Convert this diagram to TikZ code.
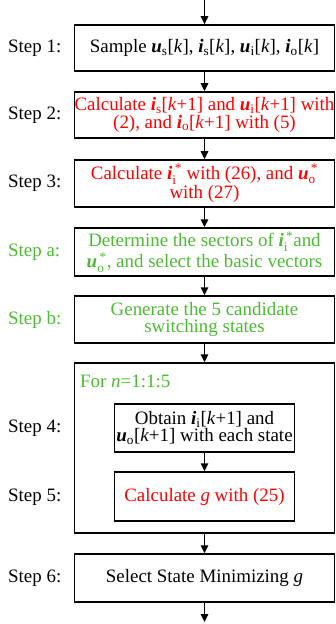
\documentclass[tikz,border=0pt]{standalone}
\usepackage{fontspec}
\usepackage{amsmath}
\setmainfont{Liberation Serif}
\usetikzlibrary{arrows.meta}
\definecolor{stepred}{RGB}{255,0,0}
\definecolor{stepgreen}{RGB}{76,187,51}
% bold italic vector with upright subscript
\newcommand{\bv}[2]{\textbf{\textit{#1}}\textsubscript{#2}}
% bold italic vector with stacked subscript and star
\newcommand{\bvs}[2]{\textbf{\textit{#1}}$_{\text{#2}}^{\,\text{*}}$}
\newcommand{\kk}{[\textit{k}]}
\newcommand{\kp}{[\textit{k}+1]}
\begin{document}
\begin{tikzpicture}[x=1bp,y=-1bp,
  every node/.style={font=\fontsize{19}{17.5}\selectfont},
  box/.style={draw,line width=1.5bp,inner sep=0pt,align=center,minimum width=259.5bp},
  inbox/.style={draw,line width=1.5bp,inner sep=0pt,align=center,minimum width=180bp},
  lbl/.style={anchor=west,inner sep=0pt},
  flow/.style={line width=1.5bp,-{Triangle[length=8bp,width=7.5bp]}}]
\useasboundingbox (0,0) rectangle (335,624);

% main column of process boxes
\node[box,minimum height=46bp] (b1) at (204.5,48)
  {Sample \bv{u}{s}\kk, \bv{i}{s}\kk, \bv{u}{i}\kk, \bv{i}{o}\kk};
\node[box,minimum height=46bp,text=stepred] (b2) at (204.5,115)
  {Calculate \bv{i}{s}\kp{} and \bv{u}{i}\kp{} with\\(2), and \bv{i}{o}\kp{} with (5)};
\node[box,minimum height=47bp,text=stepred] (b3) at (204.5,183.5)
  {Calculate \bvs{i}{i} with (26), and \bvs{u}{o}\\with (27)};
\node[box,minimum height=48bp,text=stepgreen] (ba) at (204.5,252)
  {Determine the sectors of \bvs{i}{i}and\\\bvs{u}{o}, and select the basic vectors};
\node[box,minimum height=47bp,text=stepgreen] (bb) at (204.5,319.5)
  {Generate the 5 candidate\\switching states};
\node[box,minimum height=170bp] (loop) at (204.5,448) {};
\node[inbox,minimum height=48bp] (b4) at (204.5,428)
  {Obtain \bv{i}{i}\kp{} and\\\bv{u}{o}\kp{} with each state};
\node[inbox,minimum height=49bp,text=stepred] (b5) at (204.5,496.5)
  {Calculate \textit{g} with (25)};
\node[box,minimum height=48bp] (b6) at (204.5,578)
  {Select State Minimizing \textit{g}};
\node[lbl,text=stepgreen] (loopl) at (80,381) {For \textit{n}=1:1:5};

% step labels
\node[lbl] (s1) at (8,48) {Step 1:};
\node[lbl] (s2) at (8,115) {Step 2:};
\node[lbl] (s3) at (8,183.5) {Step 3:};
\node[lbl,text=stepgreen] (sa) at (8,252) {Step a:};
\node[lbl,text=stepgreen] (sb) at (8,319.5) {Step b:};
\node[lbl] (s4) at (8,428) {Step 4:};
\node[lbl] (s5) at (8,497) {Step 5:};
\node[lbl] (s6) at (8,578) {Step 6:};

% connectors
\coordinate (in) at (204.5,0);
\coordinate (out) at (204.5,622);
\draw[flow] (in) -- (b1.north);
\draw[flow] (b1.south) -- (b2.north);
\draw[flow] (b2.south) -- (b3.north);
\draw[flow] (b3.south) -- (ba.north);
\draw[flow] (ba.south) -- (bb.north);
\draw[flow] (bb.south) -- (loop.north);
\draw[flow] (b4.south) -- (b5.north);
\draw[flow] (loop.south) -- (b6.north);
\draw[flow] (b6.south) -- (out);
\end{tikzpicture}
\end{document}
